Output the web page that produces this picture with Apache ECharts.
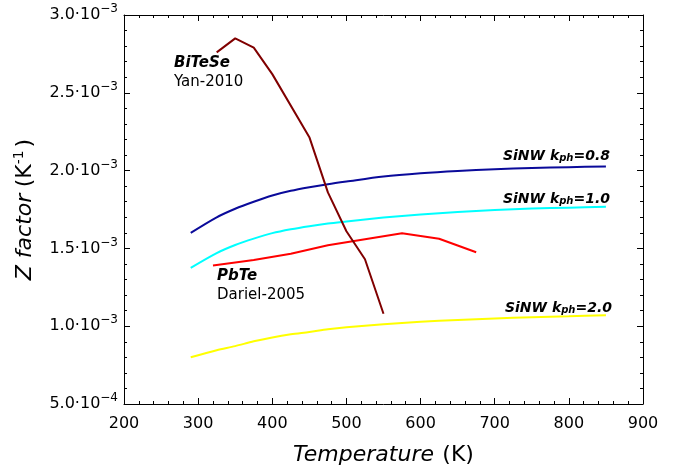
<!DOCTYPE html>
<html><head><meta charset="utf-8">
<script src="https://cdn.jsdelivr.net/npm/echarts@6/dist/echarts.min.js"></script>
<style>html,body{margin:0;padding:0;background:#fff}#c{width:675px;height:471px}</style>
</head><body><div id="c"></div>
<script>
const T_SiNW = [290, 325, 350, 375, 400, 425, 450, 475, 500, 550, 600, 650, 700, 750, 800, 850];
const Z_SiNW_08 = [1.60, 1.70, 1.755, 1.80, 1.84, 1.87, 1.893, 1.913, 1.93, 1.962, 1.983, 1.998, 2.009, 2.017, 2.022, 2.027];
const Z_SiNW_10 = [1.375, 1.47, 1.522, 1.563, 1.598, 1.623, 1.643, 1.66, 1.673, 1.698, 1.718, 1.734, 1.747, 1.756, 1.762, 1.767];
const Z_SiNW_20 = [0.80, 0.845, 0.872, 0.903, 0.928, 0.948, 0.963, 0.98, 0.993, 1.013, 1.028, 1.04, 1.05, 1.058, 1.064, 1.07];
const T_PbTe = [320, 375, 425, 475, 575, 625, 675];
const Z_PbTe = [1.39, 1.425, 1.465, 1.52, 1.597, 1.562, 1.475];
const T_BiTeSe = [325, 350, 375, 400, 450, 475, 500, 525, 550];
const Z_BiTeSe = [2.76, 2.85, 2.79, 2.62, 2.215, 1.86, 1.61, 1.43, 1.08];
const xTicks = [200, 300, 400, 500, 600, 700, 800, 900];
const yTicks = [0.0005, 0.0010, 0.0015, 0.0020, 0.0025, 0.0030];

const pairs = (xs, ys) => xs.map((x, i) => [x, ys[i] * 1e-3]);
const F = 'DejaVu Sans';
function yFmt(v) {
  const e = Math.floor(Math.log10(v) + 1e-9);
  const m = (v / Math.pow(10, e)).toFixed(1);
  return '{a|' + m + '\u00B710}{b|\u2212' + String(-e) + '}';
}
const chart = echarts.init(document.getElementById('c'), null, {renderer: 'canvas'});
const tickCommon = {inside: true, length: 6, lineStyle: {color: '#000', width: 1}};
const minorCommon = {show: true, splitNumber: 5, length: 3, lineStyle: {color: '#000', width: 1}};
const lineSeries = (name, data, color, smooth) => ({
  name, type: 'line', data, showSymbol: false, symbol: 'none',
  smooth: smooth ? 0.3 : false,
  lineStyle: {color, width: 2}, itemStyle: {color}, animation: false, z: 3
});
const sinwLabel = (v) => '{m|SiNW k}{s|ph}{m|=' + v + '}';
const sinwRich = {m: {font: 'italic bold 14px "DejaVu Sans"', fill: '#000'},
                  s: {font: 'italic bold 10px "DejaVu Sans"', fill: '#000', verticalAlign: 'bottom', padding: [5, 0, 0, 0]}};
chart.setOption({
  animation: false,
  backgroundColor: '#fff',
  grid: {left: 124, right: 32, top: 15, bottom: 61, containLabel: false},
  xAxis: [{
    type: 'value', min: 200, max: 900, interval: 100, position: 'bottom',
    axisLine: {show: true, onZero: false, lineStyle: {color: '#000', width: 1}},
    axisTick: tickCommon, minorTick: minorCommon, splitLine: {show: false},
    axisLabel: {fontFamily: F, fontSize: 16, color: '#000', margin: 12},
    name: '{i|Temperature} {n|(K)}', nameLocation: 'middle', nameGap: 40,
    nameTextStyle: {rich: {i: {fontFamily: F, fontSize: 22, fontStyle: 'italic', color: '#000'}, n: {fontFamily: F, fontSize: 22, color: '#000', padding: [0, 0, 0, 5]}}}
  }, {
    type: 'value', min: 200, max: 900, interval: 100, position: 'top',
    axisLine: {show: true, onZero: false, lineStyle: {color: '#000', width: 1}},
    axisTick: tickCommon, minorTick: minorCommon, splitLine: {show: false},
    axisLabel: {show: false}
  }],
  yAxis: [{
    type: 'value', min: 0.0005, max: 0.003, interval: 0.0005, position: 'left',
    axisLine: {show: true, onZero: false, lineStyle: {color: '#000', width: 1}},
    axisTick: tickCommon, minorTick: minorCommon, splitLine: {show: false},
    axisLabel: {fontFamily: F, color: '#000', margin: 6, formatter: yFmt,
      rich: {a: {fontFamily: F, fontSize: 16, color: '#000'},
             b: {fontFamily: F, fontSize: 12, color: '#000', verticalAlign: 'top', padding: [0, 0, 12, 0]}}},
    name: '{i|Z factor} {n|(K}{s|-1}{n|)}', nameLocation: 'middle', nameGap: 86,
    nameTextStyle: {rich: {i: {fontFamily: F, fontSize: 22, fontStyle: 'italic', color: '#000'},
                           n: {fontFamily: F, fontSize: 22, color: '#000', padding: [0, 0, 0, 3]},
                           s: {fontFamily: F, fontSize: 14, color: '#000', verticalAlign: 'top', padding: [0, 0, 12, 0]}}}
  }, {
    type: 'value', min: 0.0005, max: 0.003, interval: 0.0005, position: 'right',
    axisLine: {show: true, onZero: false, lineStyle: {color: '#000', width: 1}},
    axisTick: tickCommon, minorTick: minorCommon, splitLine: {show: false},
    axisLabel: {show: false}
  }],
  series: [
    lineSeries('SiNW 0.8', pairs(T_SiNW, Z_SiNW_08), '#0a0a9a', true),
    lineSeries('SiNW 1.0', pairs(T_SiNW, Z_SiNW_10), '#00ffff', true),
    lineSeries('SiNW 2.0', pairs(T_SiNW, Z_SiNW_20), '#ffff00', true),
    lineSeries('PbTe', pairs(T_PbTe, Z_PbTe), '#ff0000', false),
    lineSeries('BiTeSe', pairs(T_BiTeSe, Z_BiTeSe), '#800000', false)
  ],
  graphic: [
    {type: 'text', left: 174, top: 56, style: {text: 'BiTeSe', font: 'italic bold 15px "DejaVu Sans"', fill: '#000'}},
    {type: 'text', left: 174, top: 75, style: {text: 'Yan-2010', font: '15px "DejaVu Sans"', fill: '#000'}},
    {type: 'text', left: 217, top: 269, style: {text: 'PbTe', font: 'italic bold 15px "DejaVu Sans"', fill: '#000'}},
    {type: 'text', left: 217, top: 288, style: {text: 'Dariel-2005', font: '15px "DejaVu Sans"', fill: '#000'}},
    {type: 'text', right: 65, top: 149, style: {text: sinwLabel('0.8'), rich: sinwRich}},
    {type: 'text', right: 65, top: 192, style: {text: sinwLabel('1.0'), rich: sinwRich}},
    {type: 'text', right: 63, top: 301, style: {text: sinwLabel('2.0'), rich: sinwRich}}
  ]
});
</script></body></html>
